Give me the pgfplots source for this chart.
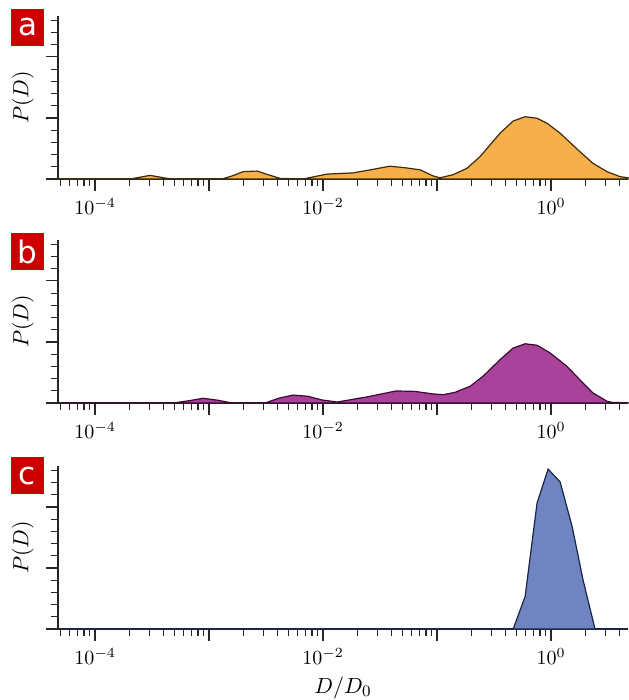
\documentclass[border=0pt]{standalone}
\usepackage{pgfplots}
\pgfplotsset{compat=1.18}
\usepackage{fontspec}
\newfontfamily\labfont{DejaVu Sans}
\definecolor{tickgray}{HTML}{262626}
\definecolor{labred}{HTML}{CC0000}
\definecolor{fa}{HTML}{F5B04C}
\definecolor{ea}{HTML}{3D2B0A}
\definecolor{fb}{HTML}{A8429A}
\definecolor{eb}{HTML}{3A0A34}
\definecolor{fc}{HTML}{6F84C0}
\definecolor{ec}{HTML}{1A2545}
\begin{document}
\begin{tikzpicture}
\useasboundingbox (0,0) rectangle (314pt,350pt);
% panel a
\begin{axis}[xmode=log, scale only axis, width=285pt, height=81.5pt,
  xmin=4.73e-5, xmax=4.73, ymin=0, ymax=2.67,
  axis lines*=left, tick align=outside,
  xtick={1e-4,1e-3,1e-2,1e-1,1},
  xticklabels={$10^{-4}$,,$10^{-2}$,,$10^{0}$},
  minor xtick={5e-5,6e-5,7e-5,8e-5,9e-5,2e-4,3e-4,4e-4,5e-4,6e-4,7e-4,8e-4,9e-4,2e-3,3e-3,4e-3,5e-3,6e-3,7e-3,8e-3,9e-3,2e-2,3e-2,4e-2,5e-2,6e-2,7e-2,8e-2,9e-2,0.2,0.3,0.4,0.5,0.6,0.7,0.8,0.9,2,3,4},
  ytick={0,1,2}, yticklabels={},
  minor ytick={0.2,0.4,0.6,0.8,1.2,1.4,1.6,1.8,2.2,2.4,2.6},
  major tick length=6pt, minor tick length=3.5pt,
  tick style={color=tickgray, line width=0.6pt},
  axis line style={color=tickgray, line width=0.6pt},
  ticklabel style={font=\fontsize{10}{12}\selectfont},
  ylabel={$P(D)$},
  ylabel style={at={(axis description cs:-0.0614,0.5)}, anchor=center, font=\fontsize{11}{13}\selectfont},
  clip=false, at={(29pt,260.5pt)}, anchor=south west]
\addplot[fill=fa, draw=ea, line width=0.6pt] coordinates {
(4.73e-5,0) (2.03e-4,0) (2.5e-4,0.03) (3.03e-4,0.06) (3.6e-4,0.035) (4.29e-4,0.01) (5e-4,0)
(1.30e-3,0) (1.65e-3,0.06) (1.99e-3,0.12) (2.64e-3,0.13) (3.3e-3,0.07) (4.2e-3,0.01) (6.68e-3,0)
(1.08e-2,0.08) (1.83e-2,0.10) (2.6e-2,0.15) (3.87e-2,0.21) (5.46e-2,0.18) (7.1e-2,0.15)
(9.23e-2,0.05) (0.106,0.02) (0.138,0.07) (0.183,0.175) (0.238,0.366) (0.357,0.75)
(0.465,0.95) (0.592,1.02) (0.753,0.995) (0.923,0.913) (1.20,0.75) (1.79,0.448)
(2.33,0.257) (3.10,0.12) (4.03,0.038) (4.73,0.02)
} \closedcycle;
\end{axis}
% panel b
\begin{axis}[xmode=log, scale only axis, width=285pt, height=81.5pt,
  xmin=4.73e-5, xmax=4.73, ymin=0, ymax=2.67,
  axis lines*=left, tick align=outside,
  xtick={1e-4,1e-3,1e-2,1e-1,1},
  xticklabels={$10^{-4}$,,$10^{-2}$,,$10^{0}$},
  minor xtick={5e-5,6e-5,7e-5,8e-5,9e-5,2e-4,3e-4,4e-4,5e-4,6e-4,7e-4,8e-4,9e-4,2e-3,3e-3,4e-3,5e-3,6e-3,7e-3,8e-3,9e-3,2e-2,3e-2,4e-2,5e-2,6e-2,7e-2,8e-2,9e-2,0.2,0.3,0.4,0.5,0.6,0.7,0.8,0.9,2,3,4},
  ytick={0,1,2}, yticklabels={},
  minor ytick={0.2,0.4,0.6,0.8,1.2,1.4,1.6,1.8,2.2,2.4,2.6},
  major tick length=6pt, minor tick length=3.5pt,
  tick style={color=tickgray, line width=0.6pt},
  axis line style={color=tickgray, line width=0.6pt},
  ticklabel style={font=\fontsize{10}{12}\selectfont},
  ylabel={$P(D)$},
  ylabel style={at={(axis description cs:-0.0614,0.5)}, anchor=center, font=\fontsize{11}{13}\selectfont},
  clip=false, at={(29pt,148.5pt)}, anchor=south west]
\addplot[fill=fb, draw=eb, line width=0.6pt] coordinates {
(4.73e-5,0) (4.83e-4,0) (6.55e-4,0.035) (8.85e-4,0.077) (1.2e-3,0.045) (1.59e-3,0)
(3.1e-3,0) (4.11e-3,0.08) (5.46e-3,0.13) (7.38e-3,0.11) (9.77e-3,0.05) (1.33e-2,0.016)
(2.43e-2,0.10) (4.37e-2,0.197) (6.4e-2,0.19) (9.23e-2,0.148) (0.113,0.136) (0.144,0.175)
(0.195,0.274) (0.253,0.438) (0.357,0.71) (0.465,0.90) (0.592,0.97) (0.753,0.946)
(0.98,0.82) (1.38,0.60) (1.79,0.38) (2.33,0.164) (3.10,0.028) (3.50,0.008) (4.73,0.005)
} \closedcycle;
\end{axis}
% panel c
\begin{axis}[xmode=log, scale only axis, width=285pt, height=81.5pt,
  xmin=4.73e-5, xmax=4.73, ymin=0, ymax=2.67,
  axis lines*=left, tick align=outside,
  xtick={1e-4,1e-3,1e-2,1e-1,1},
  xticklabels={$10^{-4}$,,$10^{-2}$,,$10^{0}$},
  minor xtick={5e-5,6e-5,7e-5,8e-5,9e-5,2e-4,3e-4,4e-4,5e-4,6e-4,7e-4,8e-4,9e-4,2e-3,3e-3,4e-3,5e-3,6e-3,7e-3,8e-3,9e-3,2e-2,3e-2,4e-2,5e-2,6e-2,7e-2,8e-2,9e-2,0.2,0.3,0.4,0.5,0.6,0.7,0.8,0.9,2,3,4},
  ytick={0,1,2}, yticklabels={},
  minor ytick={0.2,0.4,0.6,0.8,1.2,1.4,1.6,1.8,2.2,2.4,2.6},
  major tick length=6pt, minor tick length=3.5pt,
  tick style={color=tickgray, line width=0.6pt},
  axis line style={color=tickgray, line width=0.6pt},
  ticklabel style={font=\fontsize{10}{12}\selectfont},
  ylabel={$P(D)$},
  ylabel style={at={(axis description cs:-0.0614,0.5)}, anchor=center, font=\fontsize{11}{13}\selectfont},
  xlabel={$D/D_0$},
  xlabel style={at={(axis description cs:0.5,0)}, anchor=center, yshift=-29.5pt, font=\fontsize{11}{13}\selectfont},
  clip=false, at={(29pt,35.5pt)}, anchor=south west]
\addplot[fill=fc, draw=ec, line width=0.6pt] coordinates {
(4.73e-5,0) (0.465,0) (0.592,0.53) (0.753,2.06) (0.942,2.62) (1.20,2.41) (1.53,1.68)
(1.91,0.80) (2.43,0) (4.73,0)
} \closedcycle;
\end{axis}
\node[fill=labred, text=white, minimum width=16.5pt, minimum height=18.5pt, inner sep=0pt,
      font=\labfont\fontsize{15.5}{15.5}\selectfont] at (13.75pt,336.25pt) {a};
\node[fill=labred, text=white, minimum width=16.5pt, minimum height=18.5pt, inner sep=0pt,
      font=\labfont\fontsize{15.5}{15.5}\selectfont] at (13.75pt,224.25pt) {b};
\node[fill=labred, text=white, minimum width=16.5pt, minimum height=18.5pt, inner sep=0pt,
      font=\labfont\fontsize{15.5}{15.5}\selectfont] at (13.75pt,112pt) {c};
\end{tikzpicture}
\end{document}
